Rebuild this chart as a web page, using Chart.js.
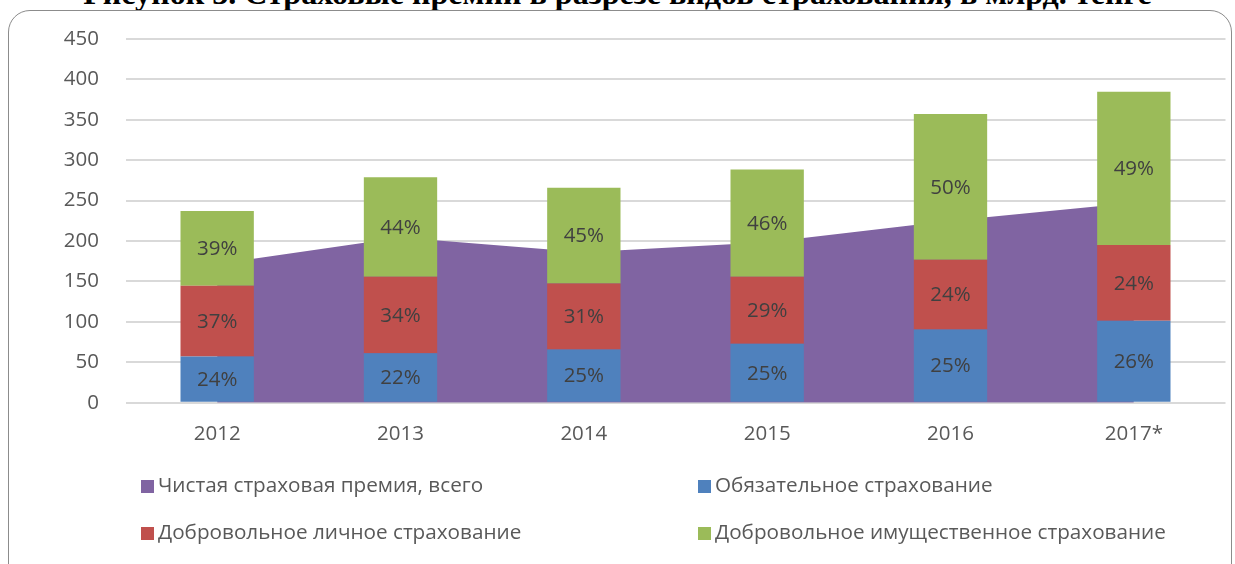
<!DOCTYPE html>
<html>
<head>
<meta charset="utf-8">
<script src="https://cdn.jsdelivr.net/npm/chart.js@4.4.0/dist/chart.umd.min.js"></script>
<style>
  html, body { margin: 0; padding: 0; background: #ffffff; overflow: hidden; }
  #wrap { position: relative; width: 1235px; height: 564px; overflow: hidden; }
  #title { position: absolute; left: 0; width: 1235px; text-align: center; white-space: nowrap;
           font-family: "Liberation Serif", "Times New Roman", serif; font-weight: bold; color: #000; }
  #frame { position: absolute; left: 8px; top: 10px; width: 1224px; height: 600px;
           border: 1px solid #8c8c8c; border-radius: 22px; box-sizing: border-box; }
  #chart { position: absolute; left: 0; top: 0; }
  .lg { position: absolute; font-family: "Open Sans", sans-serif; font-size: 20.7px; color: #595959;
        line-height: 24px; white-space: nowrap; }
  .lg span.box { display: inline-block; width: 13px; height: 13px; margin-right: 4px; vertical-align: -1px; }
</style>
</head>
<body>
<div id="wrap">
  <div id="title">Рисунок 3. Страховые премии в разрезе видов страхования, в млрд. тенге</div>
  <div id="frame"></div>
  <canvas id="chart" width="1235" height="564"></canvas>
  <div id="legend"></div>
</div>
<script>
const years = ['2012', '2013', '2014', '2015', '2016', '2017*'];
const netPremium = [171.6, 204.3, 186.2, 198.4, 225.0, 247.4];
const mandatory = [57.0, 61.2, 65.9, 72.8, 90.5, 101.2];
const voluntaryPersonal = [87.6, 94.5, 81.4, 83.1, 86.3, 93.7];
const voluntaryProperty = [92.5, 123.0, 118.6, 132.6, 180.1, 189.6];
const mandatoryPct = ['24%', '22%', '25%', '25%', '25%', '26%'];
const personalPct = ['37%', '34%', '31%', '29%', '24%', '24%'];
const propertyPct = ['39%', '44%', '45%', '46%', '50%', '49%'];
const seriesNames = ['Чистая страховая премия, всего', 'Обязательное страхование',
                     'Добровольное личное страхование', 'Добровольное имущественное страхование'];
const yMin = 0, yMax = 450, yStep = 50;

// fit title width
(function () {
  const t = document.getElementById('title');
  const c = document.createElement('canvas').getContext('2d');
  c.font = 'bold 100px "Liberation Serif"';
  const w = c.measureText(t.textContent).width;
  const F = 100 * 1069 / w;
  t.style.fontSize = F + 'px';
  t.style.lineHeight = F + 'px';
  t.style.top = (4 - 0.8375 * F) + 'px';
})();

const FONT = '"Open Sans", sans-serif';
const TXT = '#595959';

const labelPlugin = {
  id: 'segLabels',
  afterDatasetsDraw(chart) {
    const ctx = chart.ctx;
    ctx.save();
    ctx.font = '20.5px ' + FONT;
    ctx.fillStyle = '#404040';
    ctx.textAlign = 'center';
    ctx.textBaseline = 'middle';
    chart.data.datasets.forEach((ds, i) => {
      if (!ds.pctLabels) return;
      const meta = chart.getDatasetMeta(i);
      meta.data.forEach((el, j) => {
        const p = el.getProps(['x', 'y', 'base'], true);
        ctx.fillText(ds.pctLabels[j], p.x, (p.y + p.base) / 2 + 1);
      });
    });
    ctx.restore();
  }
};

const chart = new Chart(document.getElementById('chart'), {
  type: 'bar',
  data: {
    labels: years,
    datasets: [
      { type: 'line', label: seriesNames[0], data: netPremium, stack: 'area', order: 5,
        backgroundColor: '#8064A2', borderColor: '#8064A2', borderWidth: 0, fill: 'origin',
        pointRadius: 0, tension: 0 },
      { label: seriesNames[1], data: mandatory, stack: 'bars', order: 1,
        backgroundColor: '#4F81BD', pctLabels: mandatoryPct },
      { label: seriesNames[2], data: voluntaryPersonal, stack: 'bars', order: 1,
        backgroundColor: '#C0504D', pctLabels: personalPct },
      { label: seriesNames[3], data: voluntaryProperty, stack: 'bars', order: 1,
        backgroundColor: '#9BBB59', pctLabels: propertyPct }
    ]
  },
  options: {
    responsive: false,
    animation: false,
    layout: { padding: { left: 0, right: 9.5, top: 38, bottom: 101.3 } },
    datasets: { bar: { barPercentage: 0.4, categoryPercentage: 1.0 } },
    plugins: { legend: { display: false }, tooltip: { enabled: false }, title: { display: false } },
    scales: {
      x: {
        stacked: true,
        grid: { display: false, drawTicks: false },
        border: { display: false },
        ticks: { color: TXT, font: { family: FONT, size: 20.5 }, padding: 19 },
        afterFit(s) { s.height = 60; }
      },
      y: {
        stacked: true,
        min: yMin, max: yMax,
        grid: { color: '#D9D9D9', lineWidth: 2, drawTicks: false },
        border: { display: false },
        ticks: { stepSize: yStep, color: TXT, font: { family: FONT, size: 20.5 }, padding: 26.5 },
        afterFit(s) { s.width = 125.5; }
      }
    }
  },
  plugins: [labelPlugin]
});

// legend built from chart datasets
(function () {
  const lg = document.getElementById('legend');
  const pos = [[141, 472], [698, 472], [141, 519], [698, 519]];
  chart.data.datasets.forEach((ds, k) => {
    const d = document.createElement('div');
    d.className = 'lg';
    d.style.left = pos[k][0] + 'px';
    d.style.top = pos[k][1] + 'px';
    const b = document.createElement('span');
    b.className = 'box';
    b.style.background = ds.backgroundColor;
    d.appendChild(b);
    d.appendChild(document.createTextNode(ds.label));
    lg.appendChild(d);
  });
})();
</script>
</body>
</html>
